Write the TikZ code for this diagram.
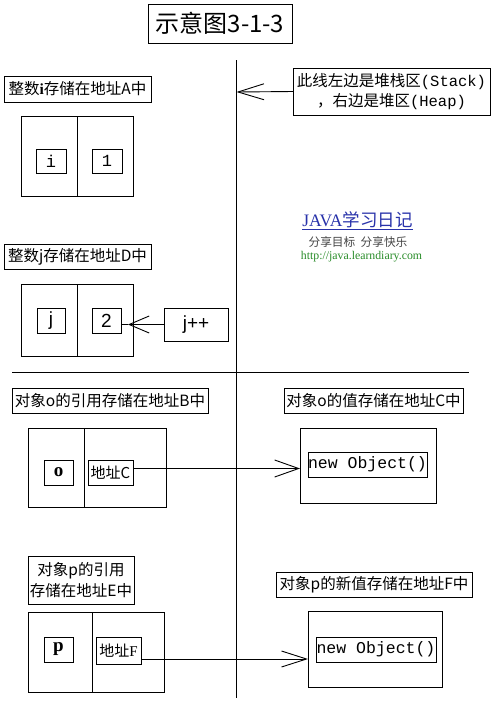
\documentclass[tikz,border=0pt]{standalone}
\usepackage{fontspec}
\setmainfont{Noto Sans CJK SC}
\newfontfamily\monof{Liberation Mono}
\newfontfamily\serf{Liberation Serif}
\newfontfamily\sansf{Liberation Sans}
\usetikzlibrary{arrows.meta}
\definecolor{javablue}{RGB}{40,50,170}
\definecolor{javagreen}{RGB}{40,140,40}
\definecolor{javagray}{RGB}{70,70,70}
\begin{document}
\begin{tikzpicture}[x=1pt,y=-1pt,line width=0.9pt,
  box/.style={draw,rectangle,inner sep=0pt,outer sep=0pt},
  lab/.style={box,font=\fontsize{15.5}{18}\selectfont},
  cell/.style={box,font=\fontsize{15}{18}\selectfont},
  monocell/.style={box,font=\monof\fontsize{17}{18}\selectfont},
  sanscell/.style={box,font=\sansf\fontsize{19}{20}\selectfont},
  serifcell/.style={box,font=\serf\bfseries\fontsize{19}{20}\selectfont},
  vee/.style 2 args={-{Straight Barb[length=#1pt,width=#2pt]}},
  plain/.style={inner sep=0pt,outer sep=0pt}]
\useasboundingbox (0,0) rectangle (494,702);
\fill[white] (0,0) rectangle (494,702);

% title
\node[box,minimum width=144,minimum height=39,font=\fontsize{24}{28}\selectfont] (title) at (220,23.5) {示意图3-1-3};

% dividing lines
\coordinate (vt) at (236.5,60);
\coordinate (vb) at (236.5,698);
\draw (vt) -- (vb);
\coordinate (hl) at (12,372.5);
\coordinate (hr) at (469,372.5);
\draw (hl) -- (hr);

% note
\node[box,minimum width=197,minimum height=47,align=center,font=\fontsize{15.5}{20}\selectfont] (note) at (391.5,91.5)
  {此线左边是堆栈区{\monof(Stack)}\\，右边是堆区{\monof(Heap)}};
\coordinate (ntip) at (236.5,92);
\draw[vee={26}{16}] (note.west) -- (ntip);

% JAVA block
\node[plain,text=javablue,font=\fontsize{17.5}{19}\selectfont] (jt) at (357.5,221) {\underline{{\serf JAVA}学习日记}};
\node[plain,text=javagray,font=\fontsize{11.7}{13}\selectfont] (js) at (358,242) {分享目标\ \ 分享快乐};
\node[plain,text=javagreen,font=\serf\fontsize{11.8}{13}\selectfont] (ju) at (361.5,257) {http://java.learndiary.com};

% integer i
\node[lab,minimum width=147,minimum height=26] (labA) at (77.5,89) {整数{\serf\bfseries i}存储在地址A中};
\node[box,minimum width=56,minimum height=80] (aL) at (49,156) {};
\node[box,minimum width=56,minimum height=80] (aR) at (105,156) {};
\node[monocell,minimum width=30,minimum height=24] (ci) at (51,161) {i};
\node[monocell,minimum width=30,minimum height=24] (cone) at (107,161) {1};

% integer j
\node[lab,minimum width=147,minimum height=25] (labD) at (77.5,256.5) {整数j存储在地址D中};
\node[box,minimum width=56,minimum height=72] (dL) at (49,320) {};
\node[box,minimum width=56,minimum height=72] (dR) at (105,320) {};
\node[sanscell,minimum width=28,minimum height=25] (cj) at (51,320.5) {j};
\node[sanscell,minimum width=29,minimum height=25] (two) at (106.5,320.5) {2};
\node[sanscell,minimum width=64,minimum height=33] (jpp) at (196,324.5) {j++};
\coordinate (jtip) at (128,324.5);
\draw[vee={20}{17}] (jpp.west) -- (jtip);
\draw (jtip) -- (jtip -| two.east);

% object o
\node[lab,minimum width=196,minimum height=25] (labB) at (110,400.5) {对象o的引用存储在地址B中};
\node[lab,minimum width=179,minimum height=25] (labC) at (373.5,400.5) {对象o的值存储在地址C中};
\node[box,minimum width=56,minimum height=79] (bL) at (56,467.5) {};
\node[box,minimum width=82,minimum height=79] (bR) at (125,467.5) {};
\node[serifcell,minimum width=29,minimum height=25] (co) at (58.5,472.5) {o};
\node[cell,minimum width=45,minimum height=25] (addrC) at (110.5,472.5) {地址C};
\node[box,minimum width=136,minimum height=75] (heapC) at (368,465.5) {};
\node[box,minimum width=119,minimum height=25,font=\monof\fontsize{16.5}{18}\selectfont] (newC) at (367.5,464.5) {new Object()};
\coordinate (oa) at ([yshift=4pt]addrC.east);
\coordinate (ob) at (oa -| heapC.west);
\draw[vee={24}{17}] (oa) -- (ob);

% object p
\node[lab,minimum width=106,minimum height=48,align=center,font=\fontsize{15.5}{21}\selectfont] (labE) at (81,580) {对象p的引用\\存储在地址E中};
\node[box,minimum width=64,minimum height=80] (eL) at (60,652) {};
\node[box,minimum width=72,minimum height=80] (eR) at (128,652) {};
\node[serifcell,minimum width=29,minimum height=25] (cp) at (58.5,649.5) {p};
\node[cell,minimum width=45,minimum height=27] (addrF) at (118.5,650.5) {地址{\serf F}};
\node[lab,minimum width=196,minimum height=25] (labF) at (374,584.5) {对象p的新值存储在地址F中};
\node[box,minimum width=134,minimum height=76] (heapF) at (375,649) {};
\node[box,minimum width=120,minimum height=25,font=\monof\fontsize{16.5}{18}\selectfont] (newF) at (376,649.5) {new Object()};
\coordinate (pa) at ([yshift=-8.5pt]addrF.east);
\coordinate (pb) at (pa -| heapF.west);
\draw[vee={25}{16}] (pa) -- (pb);
\end{tikzpicture}
\end{document}
